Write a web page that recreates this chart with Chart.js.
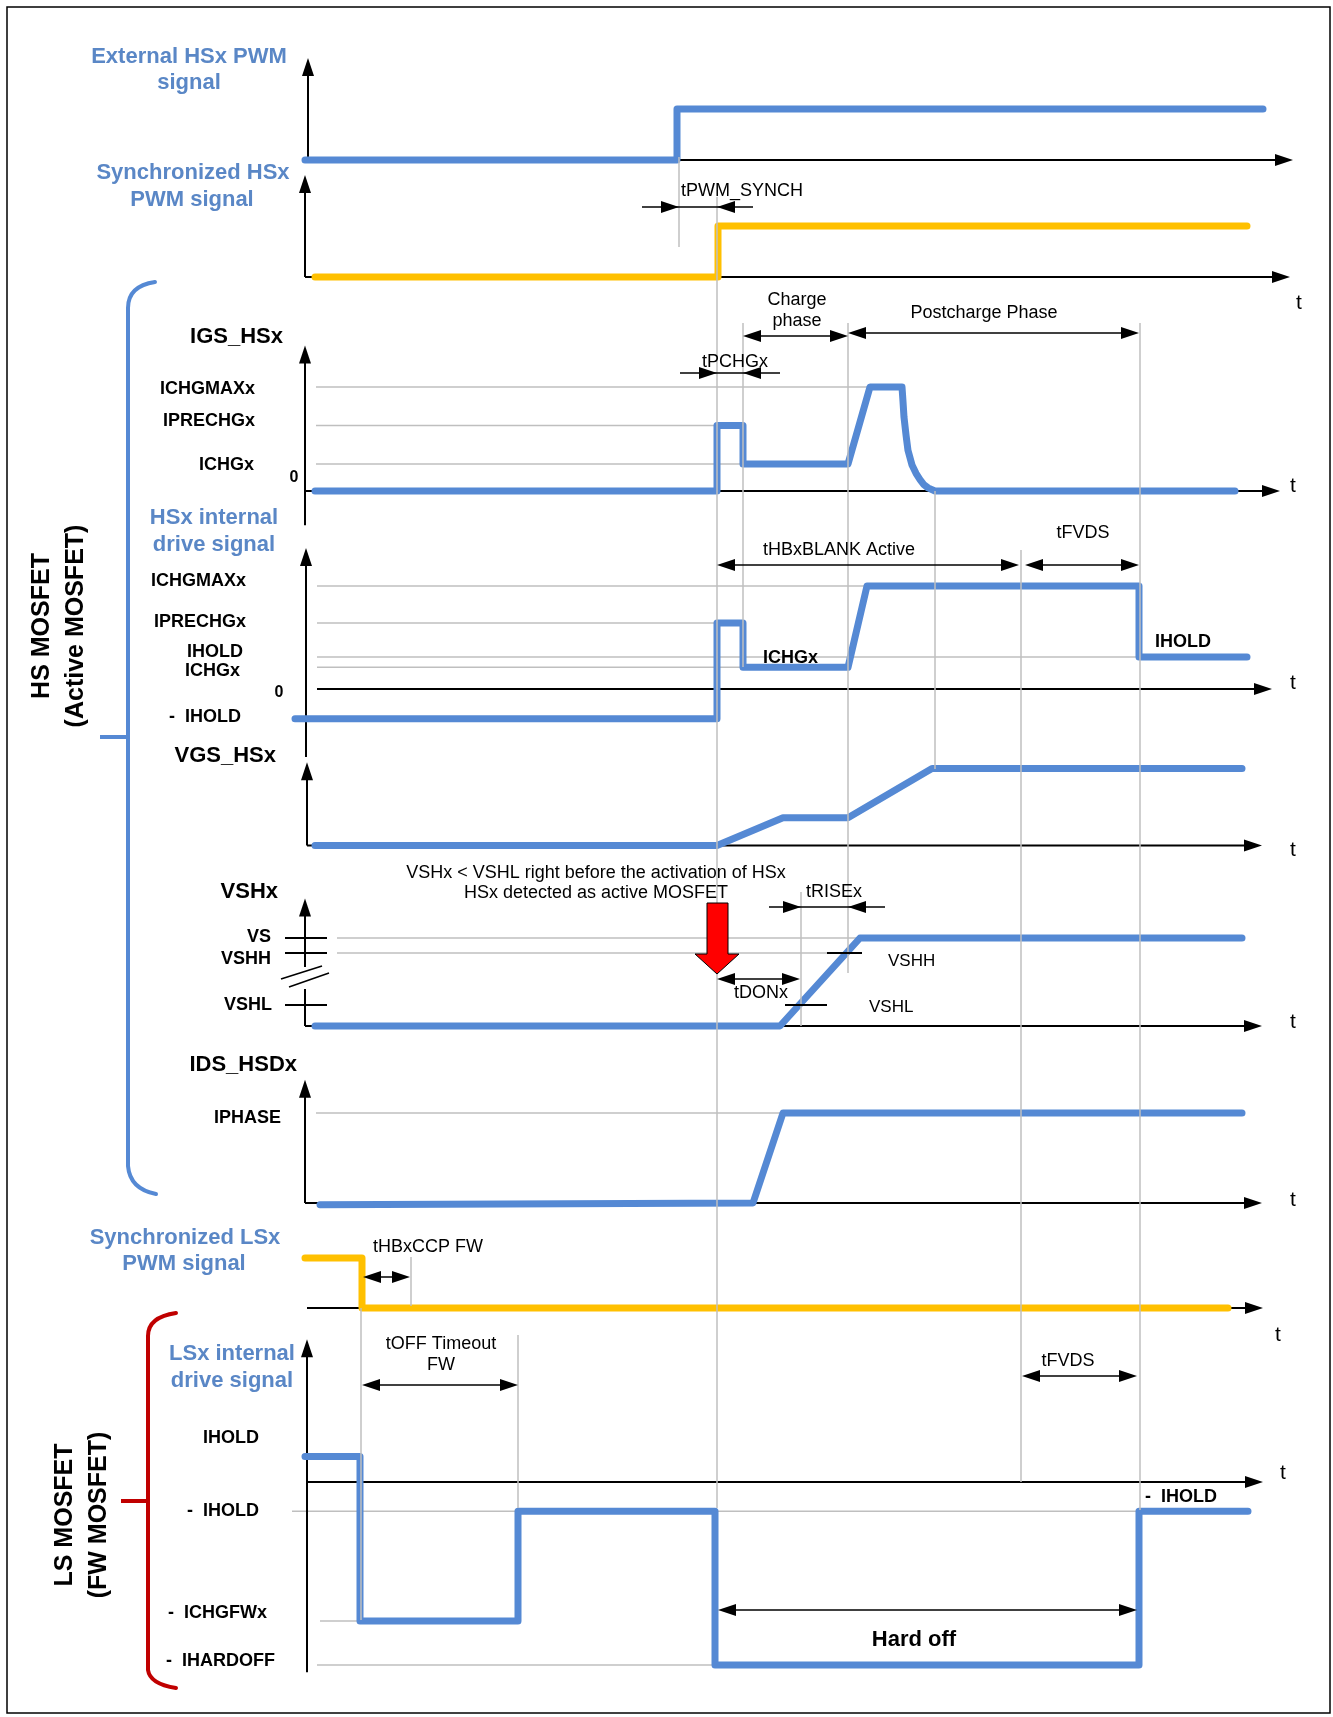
<!DOCTYPE html>
<html><head><meta charset="utf-8">
<script src="https://cdn.jsdelivr.net/npm/chart.js@4.4.0/dist/chart.umd.min.js"></script>
<style>html,body{margin:0;padding:0;background:#fff}canvas{display:block}</style>
</head><body>
<canvas id="c" width="1333" height="1717"></canvas>
<script>
// ===== DATA (time in arbitrary units, levels normalised per signal) =====
const extPwmTime   = [-0.2, 37.0, 37.0, 95.6];
const extPwmLevel  = [0, 0, 1, 1];
const hsSyncTime   = [0.8, 41.1, 41.1, 94.0];
const hsSyncLevel  = [0, 0, 1, 1];
const igsTime      = [0.8, 41.0, 41.0, 43.6, 43.6, 54.1, 56.3, 59.5, 59.6, 59.7, 59.9, 60.1, 60.5, 60.9, 61.3, 61.7, 62.1, 62.8, 92.8];
const igsLevel     = [0, 0, 0.63, 0.63, 0.26, 0.26, 1.0, 1.0, 0.86, 0.71, 0.54, 0.39, 0.25, 0.17, 0.11, 0.06, 0.03, 0, 0];
const hsDriveTime  = [-1.2, 41.0, 41.0, 43.6, 43.6, 54.1, 56.0, 83.2, 83.2, 94.0];
const hsDriveLevel = [-0.29, -0.29, 0.64, 0.64, 0.21, 0.21, 1.0, 1.0, 0.31, 0.31];
const vgsTime      = [0.8, 41.0, 47.6, 54.1, 62.5, 93.5];
const vgsLevel     = [0, 0, 0.36, 0.36, 1, 1];
const vshTime      = [0.8, 47.3, 55.3, 93.5];
const vshLevel     = [0, 0, 1, 1];
const idsTime      = [1.3, 44.6, 47.6, 93.5];
const idsLevel     = [-0.02, 0, 1, 1];
const lsSyncTime   = [-0.2, 5.5, 5.5, 92.1];
const lsSyncLevel  = [1, 1, 0, 0];
const lsDriveTime  = [-0.2, 5.3, 5.3, 21.1, 21.1, 40.8, 40.8, 83.2, 83.2, 94.1];
const lsDriveLevel = [0.14, 0.14, -0.76, -0.76, -0.16, -0.16, -1, -1, -0.16, -0.16];

// named reference levels
const igsRefLevels   = [1.0, 0.63, 0.26];          // ICHGMAXx, IPRECHGx, ICHGx
const driveRefLevels = [1.0, 0.64, 0.31, 0.21];    // ICHGMAXx, IPRECHGx, IHOLD, ICHGx
const vshRefLevels   = [1.0, 0.83, 0.24];          // VS, VSHH, VSHL
const idsRefLevels   = [1.0];                      // IPHASE
const lsRefLevels    = [-0.16, -0.76, -1.0];       // -IHOLD, -ICHGFWx, -IHARDOFF

// event times (vertical markers)
const eventTimes = [37.2, 41.0, 43.6, 54.1, 62.8, 71.4, 83.3, 49.4, 10.4, 5.4, 21.1];

// ===== LAYOUT / STYLE =====
const W = 1333, H = 1717;
const BLUE = '#5589d4', ORANGE = '#ffc000', LBL = '#5a87c6', GRAY = '#bfbfbf';
const FONT = '"Liberation Sans", Arial, sans-serif';
const panels = {
  ext:     {zero: 160,   unit: 51},
  hsSync:  {zero: 277,   unit: 51},
  igs:     {zero: 491,   unit: 104},
  drive:   {zero: 689,   unit: 103},
  vgs:     {zero: 845.5, unit: 77},
  vsh:     {zero: 1026,  unit: 88},
  ids:     {zero: 1203,  unit: 90},
  lsSync:  {zero: 1308,  unit: 50},
  lsDrive: {zero: 1482,  unit: 183}
};
const xMin = -30.7, xMax = 102.6;

function series(id, t, v, color) {
  return {
    yAxisID: id, data: t.map((tt, i) => ({x: tt, y: v[i]})),
    borderColor: color, borderWidth: 7, pointRadius: 0, tension: 0, fill: false,
    borderCapStyle: 'round', borderJoinStyle: 'round', clip: false
  };
}
const datasets = [
  series('ext', extPwmTime, extPwmLevel, BLUE),
  series('hsSync', hsSyncTime, hsSyncLevel, ORANGE),
  series('igs', igsTime, igsLevel, BLUE),
  series('drive', hsDriveTime, hsDriveLevel, BLUE),
  series('vgs', vgsTime, vgsLevel, BLUE),
  series('vsh', vshTime, vshLevel, BLUE),
  series('ids', idsTime, idsLevel, BLUE),
  series('lsSync', lsSyncTime, lsSyncLevel, ORANGE),
  series('lsDrive', lsDriveTime, lsDriveLevel, BLUE)
];

const scales = {x: {type: 'linear', display: false, min: xMin, max: xMax}};
for (const [id, p] of Object.entries(panels)) {
  scales[id] = {type: 'linear', display: false, position: 'left',
    max: p.zero / p.unit, min: (p.zero - H) / p.unit};
}

// ===== drawing helpers =====
function txt(ctx, s, x, y, align, size, bold, color) {
  ctx.font = (bold ? 'bold ' : '') + size + 'px ' + FONT;
  ctx.textAlign = align; ctx.textBaseline = 'middle';
  ctx.fillStyle = color || '#000'; ctx.fillText(s, x, y);
}
function headH(ctx, x, y, dir) { // tip at x, dir 1 right, -1 left
  ctx.beginPath(); ctx.moveTo(x, y); ctx.lineTo(x - dir * 18, y - 6); ctx.lineTo(x - dir * 18, y + 6);
  ctx.closePath(); ctx.fillStyle = '#000'; ctx.fill();
}
function headUp(ctx, x, y) {
  ctx.beginPath(); ctx.moveTo(x, y); ctx.lineTo(x - 6, y + 18); ctx.lineTo(x + 6, y + 18);
  ctx.closePath(); ctx.fillStyle = '#000'; ctx.fill();
}
function line(ctx, x1, y1, x2, y2, color, w) {
  ctx.beginPath(); ctx.moveTo(x1, y1); ctx.lineTo(x2, y2);
  ctx.strokeStyle = color; ctx.lineWidth = w; ctx.lineCap = 'butt'; ctx.stroke();
}

const plugin = {
  id: 'diagram',
  beforeDatasetsDraw(chart) {
    const ctx = chart.ctx, X = t => chart.scales.x.getPixelForValue(t);
    const Y = (p, v) => chart.scales[p].getPixelForValue(v);
    ctx.save();
    // border
    ctx.strokeStyle = '#000'; ctx.lineWidth = 1.5; ctx.strokeRect(7, 7, 1323, 1706);
    // gray reference levels
    const refs = [
      ['igs', igsRefLevels[0], 0.9, 56.3], ['igs', igsRefLevels[1], 0.9, 41.0], ['igs', igsRefLevels[2], 0.9, 43.6],
      ['drive', driveRefLevels[0], 1.0, 56.0], ['drive', driveRefLevels[1], 1.0, 41.0],
      ['drive', driveRefLevels[2], 1.0, 83.3], ['drive', driveRefLevels[3], 1.0, 43.6],
      ['vsh', vshRefLevels[0], 3.0, 55.5], ['vsh', vshRefLevels[1], 3.0, 52.0],
      ['ids', idsRefLevels[0], 0.9, 47.6],
      ['lsDrive', lsRefLevels[0], -1.5, 83.3], ['lsDrive', lsRefLevels[1], 1.3, 5.3], ['lsDrive', lsRefLevels[2], 1.0, 40.8]
    ];
    for (const [p, v, t1, t2] of refs) line(ctx, X(t1), Y(p, v), X(t2), Y(p, v), GRAY, 1.5);
    // axes: [panel, tVert, vBottom, vTop(null = none), tH1, tH2]
    const axes = [
      ['ext', 0.1, 0, 2.0, 0.1, 98.6], ['hsSync', -0.2, 0, 2.0, -0.2, 98.3],
      ['igs', -0.2, -0.33, 1.40, -0.2, 97.3], ['drive', -0.1, -0.66, 1.37, 1.0, 96.5],
      ['vgs', 0.0, 0, 1.08, 0.0, 95.5], ['vsh', -0.2, 0, 1.45, -0.2, 95.5],
      ['ids', -0.2, 0, 1.37, -0.2, 95.5], ['lsSync', null, 0, null, 0.0, 95.6],
      ['lsDrive', 0.0, -1.04, 0.78, 0.0, 95.6]
    ];
    for (const [p, tv, vb, vt, th1, th2] of axes) {
      const y0 = Y(p, 0);
      line(ctx, X(th1), y0, X(th2) - 16, y0, '#000', 2); headH(ctx, X(th2), y0, 1);
      if (tv !== null) {
        const x = X(tv);
        if (p === 'vsh') {
          line(ctx, x, Y(p, vb), x, Y(p, 0.42), '#000', 2);
          line(ctx, x, Y(p, 0.67), x, Y(p, vt) + 16, '#000', 2);
        } else {
          line(ctx, x, Y(p, vb), x, Y(p, vt) + 16, '#000', 2);
        }
        headUp(ctx, x, Y(p, vt));
      }
    }
    // braces
    ctx.lineCap = 'round'; ctx.lineWidth = 4; ctx.strokeStyle = BLUE;
    ctx.beginPath(); ctx.moveTo(155, 282); ctx.quadraticCurveTo(128, 286, 128, 308);
    ctx.lineTo(128, 1166); ctx.quadraticCurveTo(130, 1189, 156, 1194); ctx.stroke();
    ctx.lineCap = 'butt'; line(ctx, 100, 737, 128, 737, BLUE, 4);
    ctx.lineCap = 'round'; ctx.lineWidth = 4; ctx.strokeStyle = '#c00000';
    ctx.beginPath(); ctx.moveTo(176, 1313); ctx.quadraticCurveTo(148, 1317, 148, 1336);
    ctx.lineTo(148, 1670); ctx.quadraticCurveTo(150, 1684, 176, 1688); ctx.stroke();
    line(ctx, 121, 1501, 148, 1501, '#c00000', 4);
    ctx.restore();
  },
  afterDatasetsDraw(chart) {
    const ctx = chart.ctx, X = t => chart.scales.x.getPixelForValue(t);
    const Y = (p, v) => chart.scales[p].getPixelForValue(v);
    ctx.save();
    // gray event verticals (pixel extents)
    const vSpans = [[157, 247], [197, 1508], [323, 667], [323, 973], [491, 769], [550, 1482],
                    [323, 1510], [892, 1026], [1257, 1306], [1308, 1620], [1335, 1508]];
    eventTimes.forEach((t, i) => line(ctx, X(t), vSpans[i][0], X(t), vSpans[i][1], GRAY, 1.5));
    // VSHx ticks and break marks
    const xa = X(-0.2);
    for (const v of vshRefLevels) line(ctx, xa - 20, Y('vsh', v), xa + 22, Y('vsh', v), '#000', 2);
    line(ctx, 281, 979, 322, 966, '#000', 1.5); line(ctx, 289, 987, 329, 973, '#000', 1.5);
    // VSHH / VSHL crossing markers
    line(ctx, X(52.0), Y('vsh', vshRefLevels[1]), X(55.5), Y('vsh', vshRefLevels[1]), '#000', 2);
    line(ctx, X(47.8), Y('vsh', vshRefLevels[2]), X(52.0), Y('vsh', vshRefLevels[2]), '#000', 2);
    // dimension arrows
    const dimIn = [[336, 43.6, 54.1], [333, 54.1, 83.2], [565, 41.0, 71.2], [565, 71.8, 83.2],
                   [979, 41.0, 49.3], [1277, 5.6, 10.3], [1385, 5.5, 21.1], [1376, 71.5, 83.0], [1610, 41.1, 83.0]];
    for (const [y, t1, t2] of dimIn) {
      line(ctx, X(t1) + 10, y, X(t2) - 10, y, '#000', 1.5); headH(ctx, X(t1), y, -1); headH(ctx, X(t2), y, 1);
    }
    const dimOut = [[207, 37.2, 41.0, 33.5, 44.6], [373, 41.0, 43.6, 37.3, 47.3], [907, 49.4, 54.1, 46.2, 57.8]];
    for (const [y, t1, t2, e1, e2] of dimOut) {
      line(ctx, X(e1), y, X(e2), y, '#000', 1.5); headH(ctx, X(t1), y, 1); headH(ctx, X(t2), y, -1);
    }
    // red arrow
    ctx.beginPath();
    ctx.moveTo(707, 903); ctx.lineTo(728, 903); ctx.lineTo(728, 954); ctx.lineTo(739, 954);
    ctx.lineTo(717, 974); ctx.lineTo(695, 954); ctx.lineTo(707, 954); ctx.closePath();
    ctx.fillStyle = '#ff0000'; ctx.fill(); ctx.strokeStyle = '#000'; ctx.lineWidth = 1; ctx.stroke();

    // texts
    const blue = [['External HSx PWM', 189, 57], ['signal', 189, 83], ['Synchronized HSx', 193, 173],
      ['PWM signal', 192, 200], ['HSx internal', 214, 518], ['drive signal', 214, 545],
      ['Synchronized LSx', 185, 1238], ['PWM signal', 184, 1264], ['LSx internal', 232, 1354], ['drive signal', 232, 1381]];
    for (const [s, x, y] of blue) txt(ctx, s, x, y, 'center', 22, true, LBL);
    const titles = [['IGS_HSx', 283, 337], ['VGS_HSx', 276, 756], ['VSHx', 278, 892], ['IDS_HSDx', 297, 1065]];
    for (const [s, x, y] of titles) txt(ctx, s, x, y, 'right', 22, true);
    const lvl = [['ICHGMAXx', 255, 389], ['IPRECHGx', 255, 421], ['ICHGx', 254, 465],
      ['ICHGMAXx', 246, 581], ['IPRECHGx', 246, 622], ['IHOLD', 243, 652], ['ICHGx', 240, 671], ['-  IHOLD', 241, 717],
      ['VS', 271, 937], ['VSHH', 271, 959], ['VSHL', 272, 1005], ['IPHASE', 281, 1118],
      ['IHOLD', 259, 1438], ['-  IHOLD', 259, 1511], ['-  ICHGFWx', 267, 1613], ['-  IHARDOFF', 275, 1661]];
    for (const [s, x, y] of lvl) txt(ctx, s, x, y, 'right', 18, true);
    txt(ctx, '0', 294, 478, 'center', 16, true); txt(ctx, '0', 279, 693, 'center', 16, true);
    txt(ctx, 'ICHGx', 763, 658, 'left', 18, true); txt(ctx, 'IHOLD', 1155, 642, 'left', 18, true);
    txt(ctx, '-  IHOLD', 1145, 1497, 'left', 18, true); txt(ctx, 'Hard off', 914, 1640, 'center', 22, true);
    const norm = [['tPWM_SYNCH', 681, 191, 'left'], ['Charge', 797, 300, 'center'], ['phase', 797, 321, 'center'],
      ['Postcharge Phase', 984, 313, 'center'], ['tPCHGx', 735, 362, 'center'], ['tHBxBLANK Active', 763, 550, 'left'],
      ['tFVDS', 1083, 533, 'center'], ['VSHx < VSHL right before the activation of HSx', 596, 873, 'center'],
      ['HSx detected as active MOSFET', 596, 893, 'center'], ['tRISEx', 806, 892, 'left'], ['tDONx', 761, 993, 'center'],
      ['tHBxCCP FW', 373, 1247, 'left'], ['tOFF Timeout', 441, 1344, 'center'], ['FW', 441, 1365, 'center'],
      ['tFVDS', 1068, 1361, 'center']];
    for (const [s, x, y, a] of norm) txt(ctx, s, x, y, a, 18, false);
    txt(ctx, 'VSHH', 888, 961, 'left', 17, false); txt(ctx, 'VSHL', 869, 1007, 'left', 17, false);
    const tl = [[1299, 303], [1293, 486], [1293, 683], [1293, 850], [1293, 1022], [1293, 1200], [1278, 1335], [1283, 1473]];
    for (const [x, y] of tl) txt(ctx, 't', x, y, 'center', 21, false);
    // rotated group labels
    const rot = [['HS MOSFET', 42, 626], ['(Active MOSFET)', 76, 626], ['LS MOSFET', 65, 1515], ['(FW MOSFET)', 99, 1515]];
    for (const [s, x, y] of rot) {
      ctx.save(); ctx.translate(x, y); ctx.rotate(-Math.PI / 2); txt(ctx, s, 0, 0, 'center', 25, true); ctx.restore();
    }
    ctx.restore();
  }
};

new Chart(document.getElementById('c'), {
  type: 'line',
  data: {datasets},
  options: {
    responsive: false, animation: false, events: [], devicePixelRatio: 1,
    layout: {padding: 0},
    plugins: {legend: {display: false}, tooltip: {enabled: false}, title: {display: false}},
    scales
  },
  plugins: [plugin]
});
</script>
</body></html>
